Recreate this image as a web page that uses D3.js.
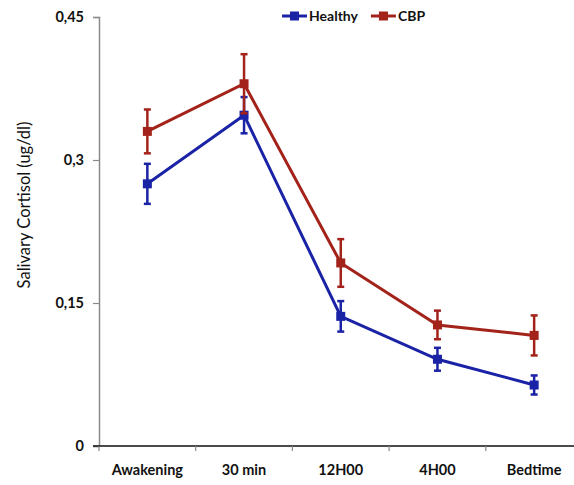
<!DOCTYPE html>
<html>
<head>
<meta charset="utf-8">
<script src="https://cdn.jsdelivr.net/npm/d3@7"></script>
<style>
  body { margin: 0; background: #fff; }
  text { font-family: Lato, "Open Sans", sans-serif; }
</style>
</head>
<body>
<div id="chart"></div>
<script>
// data
const categories = ["Awakening", "30 min", "12H00", "4H00", "Bedtime"];
const healthy = [0.275, 0.347, 0.136, 0.091, 0.064];
const healthyErr = [0.021, 0.019, 0.016, 0.012, 0.010];
const cbp = [0.330, 0.380, 0.192, 0.127, 0.116];
const cbpErr = [0.023, 0.031, 0.025, 0.015, 0.021];
const yTicks = [0, 0.15, 0.3, 0.45];

const w = 574, h = 485;
const margin = {left: 99, top: 17, bottom: 39};
const svg = d3.select("#chart").append("svg").attr("width", w).attr("height", h);

const bandW = 96.7;
const x = d3.scalePoint().domain(categories)
    .range([margin.left + bandW / 2, margin.left + bandW * 4.5]);
const y = d3.scaleLinear().domain([0, 0.45]).range([h - margin.bottom, margin.top]);

// y axis
const yAxis = svg.append("g").attr("transform", "translate(" + margin.left + ",0)")
    .call(d3.axisLeft(y).tickValues(yTicks).tickSize(6).tickPadding(9)
        .tickFormat(d => d === 0 ? "0" : String(d).replace(".", ",")));
yAxis.select(".domain").attr("stroke", "#8a8a8a").attr("stroke-width", 1.5);
yAxis.selectAll(".tick line").attr("stroke", "#8a8a8a").attr("stroke-width", 1.2);
yAxis.selectAll(".tick text").attr("font-size", 14.5).attr("font-weight", "bold").attr("fill", "#111");

// x axis
const xg = svg.append("g").attr("transform", "translate(0," + y(0) + ")");
xg.append("line").attr("x1", margin.left - 6).attr("x2", w).attr("stroke", "#111").attr("stroke-width", 1.5);
d3.range(0, 5).forEach(i => {
  xg.append("line").attr("x1", margin.left + i * bandW).attr("x2", margin.left + i * bandW)
    .attr("y1", 0).attr("y2", 5).attr("stroke", "#8a8a8a").attr("stroke-width", 1.2);
});
xg.selectAll("text.cat").data(categories).enter().append("text")
    .attr("class", "cat")
    .attr("x", d => x(d)).attr("y", 29)
    .attr("text-anchor", "middle").attr("font-size", 14.5).attr("font-weight", "bold").attr("fill", "#111")
    .text(d => d);

// y label
svg.append("text")
    .attr("transform", "translate(30," + 205 + ") rotate(-90)")
    .attr("text-anchor", "middle").attr("font-size", 16.5).attr("fill", "#111")
    .text("Salivary Cortisol (ug/dl)");

const series = [
  {name: "Healthy", values: healthy, err: healthyErr, color: "#1a22a6"},
  {name: "CBP", values: cbp, err: cbpErr, color: "#a3231b"}
];

const line = d3.line().x((d, i) => x(categories[i])).y(d => y(d));

series.forEach(s => {
  const g = svg.append("g");
  // error bars
  s.values.forEach((v, i) => {
    const cx = x(categories[i]);
    const y1 = y(v + s.err[i]), y2 = y(v - s.err[i]);
    g.append("line").attr("x1", cx).attr("x2", cx).attr("y1", y1).attr("y2", y2)
      .attr("stroke", s.color).attr("stroke-width", 2.5);
    [y1, y2].forEach(yy => g.append("line").attr("x1", cx - 3.5).attr("x2", cx + 3.5)
      .attr("y1", yy).attr("y2", yy).attr("stroke", s.color).attr("stroke-width", 2.5));
  });
  g.append("path").datum(s.values).attr("d", line)
    .attr("fill", "none").attr("stroke", s.color).attr("stroke-width", 3);
  g.selectAll("rect").data(s.values).enter().append("rect")
    .attr("x", (d, i) => x(categories[i]) - 4.5).attr("y", d => y(d) - 4.5)
    .attr("width", 9).attr("height", 9).attr("fill", s.color);
});

// legend
const legend = svg.append("g").attr("transform", "translate(282,16)");
let lx = 0;
series.forEach(s => {
  legend.append("line").attr("x1", lx).attr("x2", lx + 25).attr("stroke", s.color).attr("stroke-width", 3);
  legend.append("rect").attr("x", lx + 8).attr("y", -4.5).attr("width", 9).attr("height", 9).attr("fill", s.color);
  const t = legend.append("text").attr("x", lx + 27).attr("y", 5)
    .attr("font-size", 14).attr("font-weight", "bold").attr("fill", "#111").text(s.name);
  lx += 27 + t.node().getComputedTextLength() + 13;
});
</script>
</body>
</html>
